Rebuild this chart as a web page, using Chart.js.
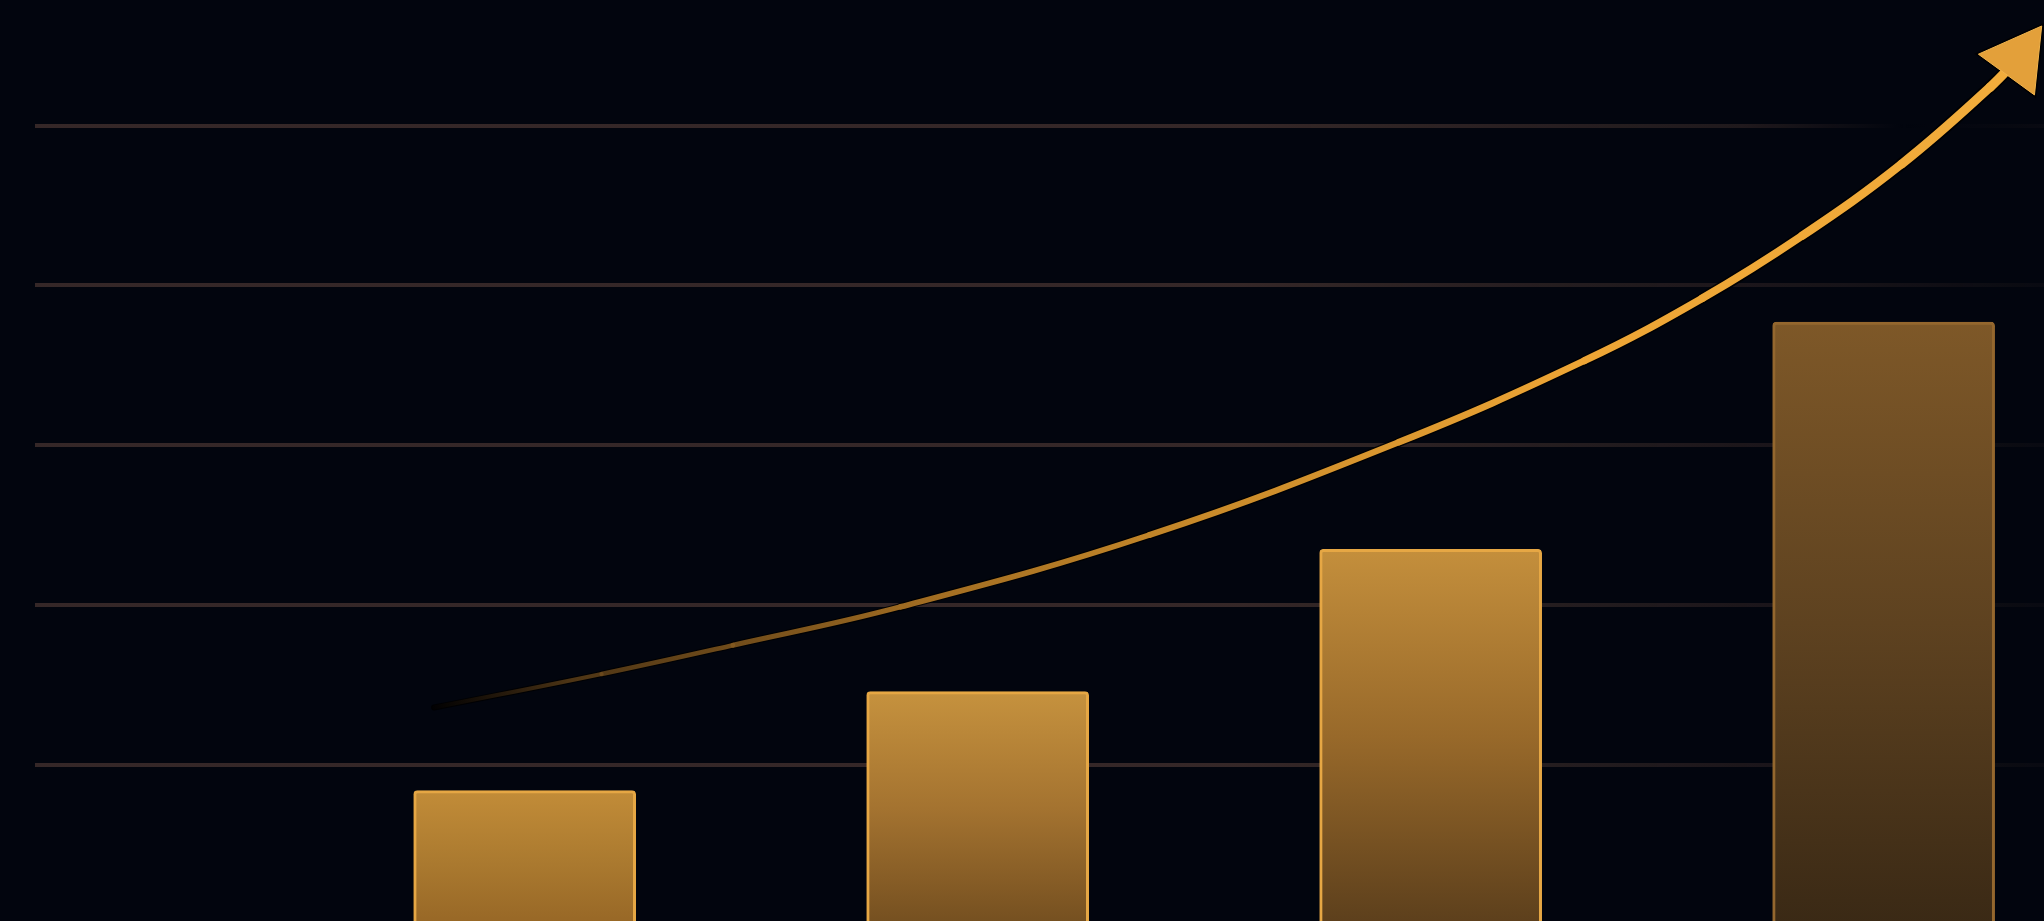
<!DOCTYPE html>
<html>
<head>
<meta charset="utf-8">
<script src="https://cdn.jsdelivr.net/npm/chart.js@4/dist/chart.umd.min.js"></script>
<style>
  html, body { margin: 0; padding: 0; background: #02050e; overflow: hidden; }
  #wrap { position: relative; width: 2044px; height: 925px; }
</style>
</head>
<body>
<div id="wrap"><canvas id="myChart"></canvas></div>
<script>
// bar data
var labels = ["Q1", "Q2", "Q3", "Q4"]
var barX = [1, 2, 3, 4]
var barValues = [0.84, 1.46, 2.35, 3.77]

// growth arrow
var arrowX = [0.80, 1.17, 1.46, 1.83, 2.38, 2.93, 3.34, 3.60, 3.82, 4.04, 4.235, 4.297]
var arrowY = [1.36, 1.57, 1.75, 1.99, 2.44, 3.02, 3.53, 3.92, 4.31, 4.76, 5.24, 5.42]

var gridTicks = [0, 1, 2, 3, 4, 5]

// colours (top / middle / bottom of each bar, border)
var barTop = ["#c28c38", "#c6923e", "#c48f3c", "#7e5828"]
var barMid = ["#ac7b30", "#a47330", "#98692a", "#5e4220"]
var barBottom = ["#976726", "#744f20", "#5c3f1c", "#3a2915"]
var barBorder = ["#e6a744", "#e6a744", "#e6a744", "#94672e"]

document.addEventListener("DOMContentLoaded", function () {

  var barData = []
  for (var i in barX) barData.push({ x: barX[i], y: barValues[i] })

  var arrowData = []
  for (var j in arrowX) arrowData.push({ x: arrowX[j], y: arrowY[j] })
  var last = arrowData.length - 1

  function barFill(c) {
    var chart = c.chart
    if (!chart.chartArea) return barTop[0]
    var i = c.dataIndex
    var top = chart.scales.y.getPixelForValue(barValues[i])
    var bottom = chart.scales.y.getPixelForValue(0)
    var g = chart.ctx.createLinearGradient(0, top, 0, bottom)
    g.addColorStop(0, barTop[i])
    g.addColorStop(0.5, barMid[i])
    g.addColorStop(1, barBottom[i])
    return g
  }

  function arrowColor(c) {
    var chart = c.chart
    if (!chart.chartArea) return "#e8a63a"
    var g = chart.ctx.createLinearGradient(430, 710, 2040, 30)
    g.addColorStop(0, "rgba(90,60,25,0)")
    g.addColorStop(0.08, "rgba(110,75,30,0.7)")
    g.addColorStop(0.28, "#a06c22")
    g.addColorStop(0.45, "#c88a2a")
    g.addColorStop(0.68, "#eda535")
    g.addColorStop(1, "#f2ad3c")
    return g
  }

  function gridColor(c) {
    if (!c.tick || c.tick.value === 0) return "rgba(0,0,0,0)"
    var chart = c.chart
    var g = chart.ctx.createLinearGradient(35, 0, 2044, 0)
    g.addColorStop(0, "rgba(62,46,44,0.85)")
    g.addColorStop(0.6, "rgba(62,46,44,0.85)")
    if (c.tick.value === 5) {
      g.addColorStop(0.85, "rgba(62,46,44,0.5)")
      g.addColorStop(0.93, "rgba(62,46,44,0)")
    } else {
      g.addColorStop(0.9, "rgba(62,46,44,0.35)")
    }
    g.addColorStop(1, "rgba(62,46,44,0.12)")
    return g
  }

  var ctx = document.getElementById("myChart")
  var myChart = new Chart(ctx, {
    type: "bar",
    data: {
      labels: labels,
      datasets: [
        {
          type: "line",
          data: arrowData,
          borderColor: arrowColor,
          borderWidth: 8,
          tension: 0.4,
          borderCapStyle: "round",
          borderJoinStyle: "round",
          clip: false,
          pointRadius: function (c) { return c.dataIndex === last ? 40 : 0 },
          pointStyle: "triangle",
          rotation: 36,
          pointBackgroundColor: "#e3a03a",
          pointBorderColor: "#f2b44c",
          pointBorderWidth: 1,
          segment: {
            borderWidth: function (c) { return 4 + c.p0DataIndex * 0.55 }
          }
        },
        {
          type: "line",
          data: arrowData,
          borderColor: "rgba(0,0,0,0.85)",
          borderWidth: 12,
          tension: 0.4,
          borderCapStyle: "round",
          clip: false,
          pointRadius: function (c) { return c.dataIndex === last ? 44 : 0 },
          pointStyle: "triangle",
          rotation: 36,
          pointBackgroundColor: "rgba(0,0,0,0.85)",
          pointBorderWidth: 0,
          segment: {
            borderWidth: function (c) { return 6 + c.p0DataIndex * 0.7 }
          }
        },
        {
          data: barData,
          backgroundColor: barFill,
          borderColor: barBorder,
          borderWidth: 3,
          borderRadius: 4,
          barThickness: 222
        }
      ]
    },
    options: {
      responsive: true,
      maintainAspectRatio: false,
      animation: false,
      layout: { autoPadding: false, padding: { left: 35, top: 20, right: 0, bottom: 0 } },
      plugins: {
        legend: { display: false },
        tooltip: { enabled: false }
      },
      scales: {
        x: {
          type: "linear",
          offset: false,
          min: -0.081,
          max: 4.354,
          display: false
        },
        y: {
          min: 0,
          max: 5.66,
          afterBuildTicks: function (axis) {
            axis.ticks = gridTicks.map(function (v) { return { value: v } })
          },
          border: { display: false },
          grid: { color: gridColor, lineWidth: 4, drawTicks: false },
          ticks: { display: false }
        }
      }
    }
  })

})
</script>
</body>
</html>
